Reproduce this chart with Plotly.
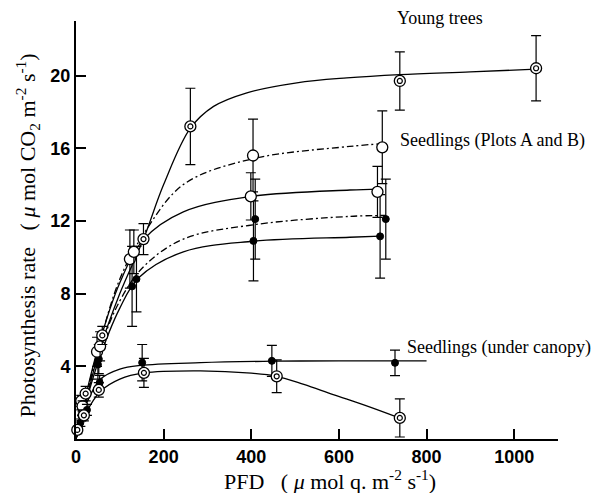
import plotly.graph_objects as go

# ---------------- data ----------------
# Young trees (bullseye markers, solid fitted curve)
yt_x = [22, 60, 154, 261, 739, 1050]
yt_y = [2.5, 5.7, 11.0, 17.2, 19.7, 20.4]
yt_e = [0.4, 0.5, 0.85, 2.1, 1.6, 1.8]
yt_cx = [0, 25, 50, 100, 154, 200, 261, 314, 390, 504, 618, 739, 900, 1050]
yt_cy = [0, 2.3, 4.6, 8.0, 11.0, 14.0, 17.1, 18.3, 19.05, 19.6, 19.87, 20.05, 20.2, 20.35]

# Seedlings plots A and B
a1_x = [12, 48, 123, 404, 699]          # open circles, dash-dot curve (upper)
a1_y = [2.1, 4.8, 9.9, 15.6, 16.05]
a1_e = [0.3, 0.8, 1.6, 2.0, 2.0]
a1_cx = [0, 50, 100, 155, 245, 400, 625, 700]
a1_cy = [0, 4.9, 8.8, 11.3, 14.0, 15.4, 16.1, 16.25]

a2_x = [15, 55, 132, 399, 688]          # open circles, solid curve
a2_y = [1.8, 5.1, 10.3, 13.35, 13.6]
a2_e = [0.3, 0.8, 1.2, 1.3, 1.4]
a2_cx = [0, 50, 100, 155, 245, 400, 625, 690]
a2_cy = [0, 5.0, 8.6, 11.0, 12.5, 13.35, 13.7, 13.75]

a3_x = [14, 52, 138, 409, 707]          # filled circles, dash-dot curve
a3_y = [1.6, 4.4, 8.8, 12.1, 12.1]
a3_e = [0.3, 0.8, 1.8, 2.2, 2.2]
a3_cx = [0, 50, 100, 155, 245, 409, 625, 707]
a3_cy = [0, 4.6, 7.6, 9.5, 11.0, 11.8, 12.25, 12.3]

a4_x = [12, 50, 128, 405, 694]          # filled circles, solid curve
a4_y = [1.3, 4.1, 8.4, 10.9, 11.15]
a4_e = [0.3, 0.8, 2.2, 2.2, 2.3]
a4_cx = [0, 50, 100, 143, 245, 405, 625, 694]
a4_cy = [0, 4.2, 7.2, 8.87, 10.3, 10.88, 11.1, 11.16]

# Seedlings under canopy
c1_x = [10, 25, 54, 151, 447, 728]      # filled circles
c1_y = [0.9, 1.6, 3.1, 4.2, 4.3, 4.19]
c1_e = [0.2, 0.3, 0.4, 1.0, 0.85, 0.7]
c1_cx = [0, 25, 56, 100, 147, 284, 450, 600, 800]
c1_cy = [0, 2.0, 3.3, 3.85, 4.05, 4.2, 4.28, 4.3, 4.3]

c2_x = [3, 18, 52, 155, 458, 739]       # bullseye markers
c2_y = [0.5, 1.3, 2.7, 3.64, 3.45, 1.16]
c2_e = [0.2, 0.3, 0.4, 0.8, 0.9, 1.05]
c2_cx = [0, 20, 56, 100, 155, 284, 400, 458, 520, 587, 660, 739]
c2_cy = [0, 1.3, 2.63, 3.3, 3.64, 3.75, 3.62, 3.45, 3.0, 2.44, 1.85, 1.15]

x_ticks = [0, 200, 400, 600, 800, 1000]
y_ticks = [4, 8, 12, 16, 20]

labels = ["Young trees", "Seedlings (Plots A and B)", "Seedlings (under canopy)"]

# ---------------- figure ----------------
fig = go.Figure()
DASHDOT = "7px,3px,2px,3px"

def curve(cx, cy, dash="solid"):
    fig.add_trace(go.Scatter(x=cx, y=cy, mode="lines", line_shape="spline",
                             line=dict(color="black", width=1.3, dash=dash),
                             hoverinfo="skip", cliponaxis=False))

def err_points(x, y, e, kind):
    if kind == "filled":
        marker = dict(symbol="circle", size=7, color="black",
                      line=dict(color="black", width=1))
    else:
        marker = dict(symbol="circle", size=11, color="white",
                      line=dict(color="black", width=1.3))
    fig.add_trace(go.Scatter(x=x, y=y, mode="markers", marker=marker,
                             error_y=dict(type="data", array=e, color="black",
                                          thickness=1.2, width=5),
                             cliponaxis=False))
    if kind == "bull":
        fig.add_trace(go.Scatter(x=x, y=y, mode="markers",
                                 marker=dict(symbol="circle-open", size=5, color="black",
                                             line=dict(color="black", width=1.2)),
                                 cliponaxis=False))

curve(yt_cx, yt_cy)
curve(a1_cx, a1_cy, DASHDOT)
curve(a2_cx, a2_cy)
curve(a3_cx, a3_cy, DASHDOT)
curve(a4_cx, a4_cy)
curve(c1_cx, c1_cy)
curve(c2_cx, c2_cy)

err_points(a3_x, a3_y, a3_e, "filled")
err_points(a4_x, a4_y, a4_e, "filled")
err_points(a1_x, a1_y, a1_e, "open")
err_points(a2_x, a2_y, a2_e, "open")
err_points(c1_x, c1_y, c1_e, "filled")
err_points(c2_x, c2_y, c2_e, "bull")
err_points(yt_x, yt_y, yt_e, "bull")

serif = "Liberation Serif, Times New Roman, serif"
sans = "Liberation Sans, Arial, sans-serif"

label_pos = [(0.662, 1.0065), (0.669, 0.715), (0.683, 0.218)]
for t, (lx, ly) in zip(labels, label_pos):
    fig.add_annotation(xref="paper", yref="paper", x=lx, y=ly, text=t, showarrow=False,
                       xanchor="left", yanchor="middle",
                       font=dict(family=serif, size=18, color="black"))

fig.add_annotation(xref="paper", yref="paper", x=-0.1005, y=0.486, textangle=-90,
                   text="Photosynthesis rate   ( <i>μ</i> mol CO<sub>2</sub> m<sup>-2</sup> s<sup>-1</sup>)",
                   showarrow=False, xanchor="center", yanchor="middle",
                   font=dict(family=serif, size=22, color="black"))
fig.add_annotation(xref="paper", yref="paper", x=0.527, y=-0.097,
                   text="PFD   ( <i>μ</i> mol q. m<sup>-2</sup> s<sup>-1</sup>)",
                   showarrow=False, xanchor="center", yanchor="middle",
                   font=dict(family=serif, size=22, color="black"))

tick_font = dict(family=sans, size=18, color="black", weight="bold")

# page body has an 8px default margin, so the figure is sized/offset to compensate
fig.update_layout(
    width=599, height=485,
    margin=dict(l=67.5, r=49, t=12.7, b=53.6),
    paper_bgcolor="white", plot_bgcolor="white",
    showlegend=False,
    xaxis=dict(range=[0, 1100], tickvals=x_ticks, ticks="inside", ticklen=10,
               tickwidth=2, tickcolor="black", showline=True, linewidth=2,
               linecolor="black", showgrid=False, zeroline=False,
               tickfont=tick_font),
    yaxis=dict(range=[0, 23], tickvals=y_ticks, ticks="inside", ticklen=10,
               tickwidth=2, tickcolor="black", showline=True, linewidth=2,
               linecolor="black", showgrid=False, zeroline=False,
               tickfont=tick_font),
)

fig.write_html("out.html")
